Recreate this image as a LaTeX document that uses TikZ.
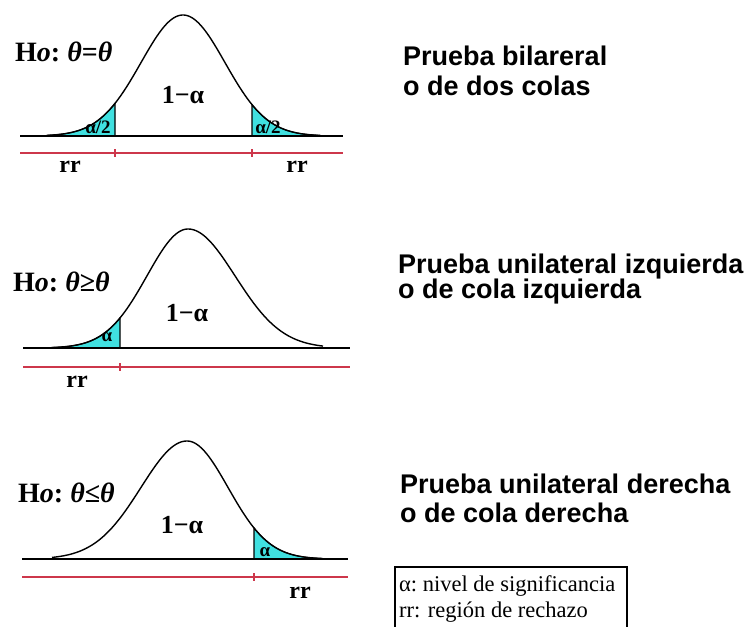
\documentclass[tikz,border=0pt]{standalone}
\usepackage{fontspec}
\setmainfont{Liberation Serif}
\newfontfamily\headfont{Liberation Sans}
\definecolor{tail}{RGB}{64,224,224}
\definecolor{rline}{RGB}{205,55,75}
\tikzset{
  declare function={gss(\x,\c,\b,\h,\s)=\b-\h*exp(-0.5*((\x-\c)/\s)^2);},
  curve/.style={line width=1.4pt, black, line join=round},
  baseln/.style={line width=1.7pt, black},
  redline/.style={rline, line width=1.3pt},
  tailfill/.style={fill=tail, draw=black, line width=1.1pt},
  hyp/.style={font=\fontsize{28}{30}\selectfont\bfseries, inner sep=0pt, anchor=west},
  onelab/.style={font=\fontsize{26}{28}\selectfont\bfseries, inner sep=0pt},
  alab/.style={font=\fontsize{19}{20}\selectfont\bfseries, inner sep=0pt},
  rrlab/.style={font=\fontsize{24}{26}\selectfont\bfseries, inner sep=0pt},
  titletxt/.style={font=\headfont\fontsize{27}{30}\selectfont\bfseries, anchor=base west, inner sep=0pt},
  legendtxt/.style={font=\fontsize{22.5}{26}\selectfont, anchor=base west, inner sep=0pt},
}
\begin{document}
\begin{tikzpicture}[x=1pt,y=-1pt]
\useasboundingbox[fill=white] (0,0) rectangle (748,627);

% ---------- panel 1: two tails ----------
\filldraw[tailfill] (47,136) -- plot[domain=47:115,samples=40] (\x,{gss(\x,183,136,121,42)}) -- (115,136) -- cycle;
\filldraw[tailfill] (252,136) -- plot[domain=252:320,samples=40] (\x,{gss(\x,183,136,121,42)}) -- (320,136) -- cycle;
\draw[curve] plot[domain=47:320,samples=120] (\x,{gss(\x,183,136,121,42)});
\draw[baseln] (20,136) -- (343,136);
\draw[redline] (20,153) -- (343,153);
\draw[redline] (115,149) -- (115,157);
\draw[redline] (252,149) -- (252,157);
\node[hyp] (h1) at (15,52) {H\textit{o}:\ \textit{θ}=\textit{θ}};
\node[onelab] (c1) at (183,95) {1−α};
\node[alab] (t1l) at (98,127) {α/2};
\node[alab] (t1r) at (268,127) {α/2};
\node[rrlab] (r1l) at (70,167) {rr};
\node[rrlab] (r1r) at (297,167) {rr};
\node[titletxt] (p1a) at (403,65) {Prueba bilareral};
\node[titletxt] (p1b) at (403,95) {o de dos colas};

% ---------- panel 2: left tail ----------
\filldraw[tailfill] (52,348) -- plot[domain=52:120,samples=40] (\x,{gss(\x,188,348,119,41)}) -- (120,348) -- cycle;
\draw[curve] plot[domain=52:188,samples=70] (\x,{gss(\x,188,348,119,41)})
  -- plot[domain=188:323,samples=70] (\x,{gss(\x,188,348,119,47)});
\draw[baseln] (23,348) -- (350,348);
\draw[redline] (23,367) -- (350,367);
\draw[redline] (120,363) -- (120,371);
\node[hyp] (h2) at (13,282) {H\textit{o}:\ \textit{θ}≥\textit{θ}};
\node[onelab] (c2) at (187,313) {1−α};
\node[alab] (t2) at (107,337) {α};
\node[rrlab] (r2) at (77,382) {rr};
\node[titletxt] (p2a) at (398,273) {Prueba unilateral izquierda};
\node[titletxt] (p2b) at (398,298) {o de cola izquierda};

% ---------- panel 3: right tail ----------
\filldraw[tailfill] (254,559) -- plot[domain=254:322,samples=40] (\x,{gss(\x,187,559,118,41)}) -- (322,559) -- cycle;
\draw[curve] plot[domain=52:187,samples=70] (\x,{gss(\x,187,559,118,46)})
  -- plot[domain=187:322,samples=70] (\x,{gss(\x,187,559,118,41)});
\draw[baseln] (22,559) -- (348,559);
\draw[redline] (22,577) -- (348,577);
\draw[redline] (254,573) -- (254,581);
\node[hyp] (h3) at (18,493) {H\textit{o}:\ \textit{θ}≤\textit{θ}};
\node[onelab] (c3) at (182,525) {1−α};
\node[alab] (t3) at (265,552) {α};
\node[rrlab] (r3) at (300,593) {rr};
\node[titletxt] (p3a) at (400,493) {Prueba unilateral derecha};
\node[titletxt] (p3b) at (400,522) {o de cola derecha};

% ---------- legend ----------
\draw[line width=1.3pt] (395,628) -- (395,567) -- (627,567) -- (627,628);
\node[legendtxt] (l1) at (399,591) {α:\ nivel de significancia};
\node[legendtxt] (l2) at (399,617) {rr: región de rechazo};
\end{tikzpicture}
\end{document}
